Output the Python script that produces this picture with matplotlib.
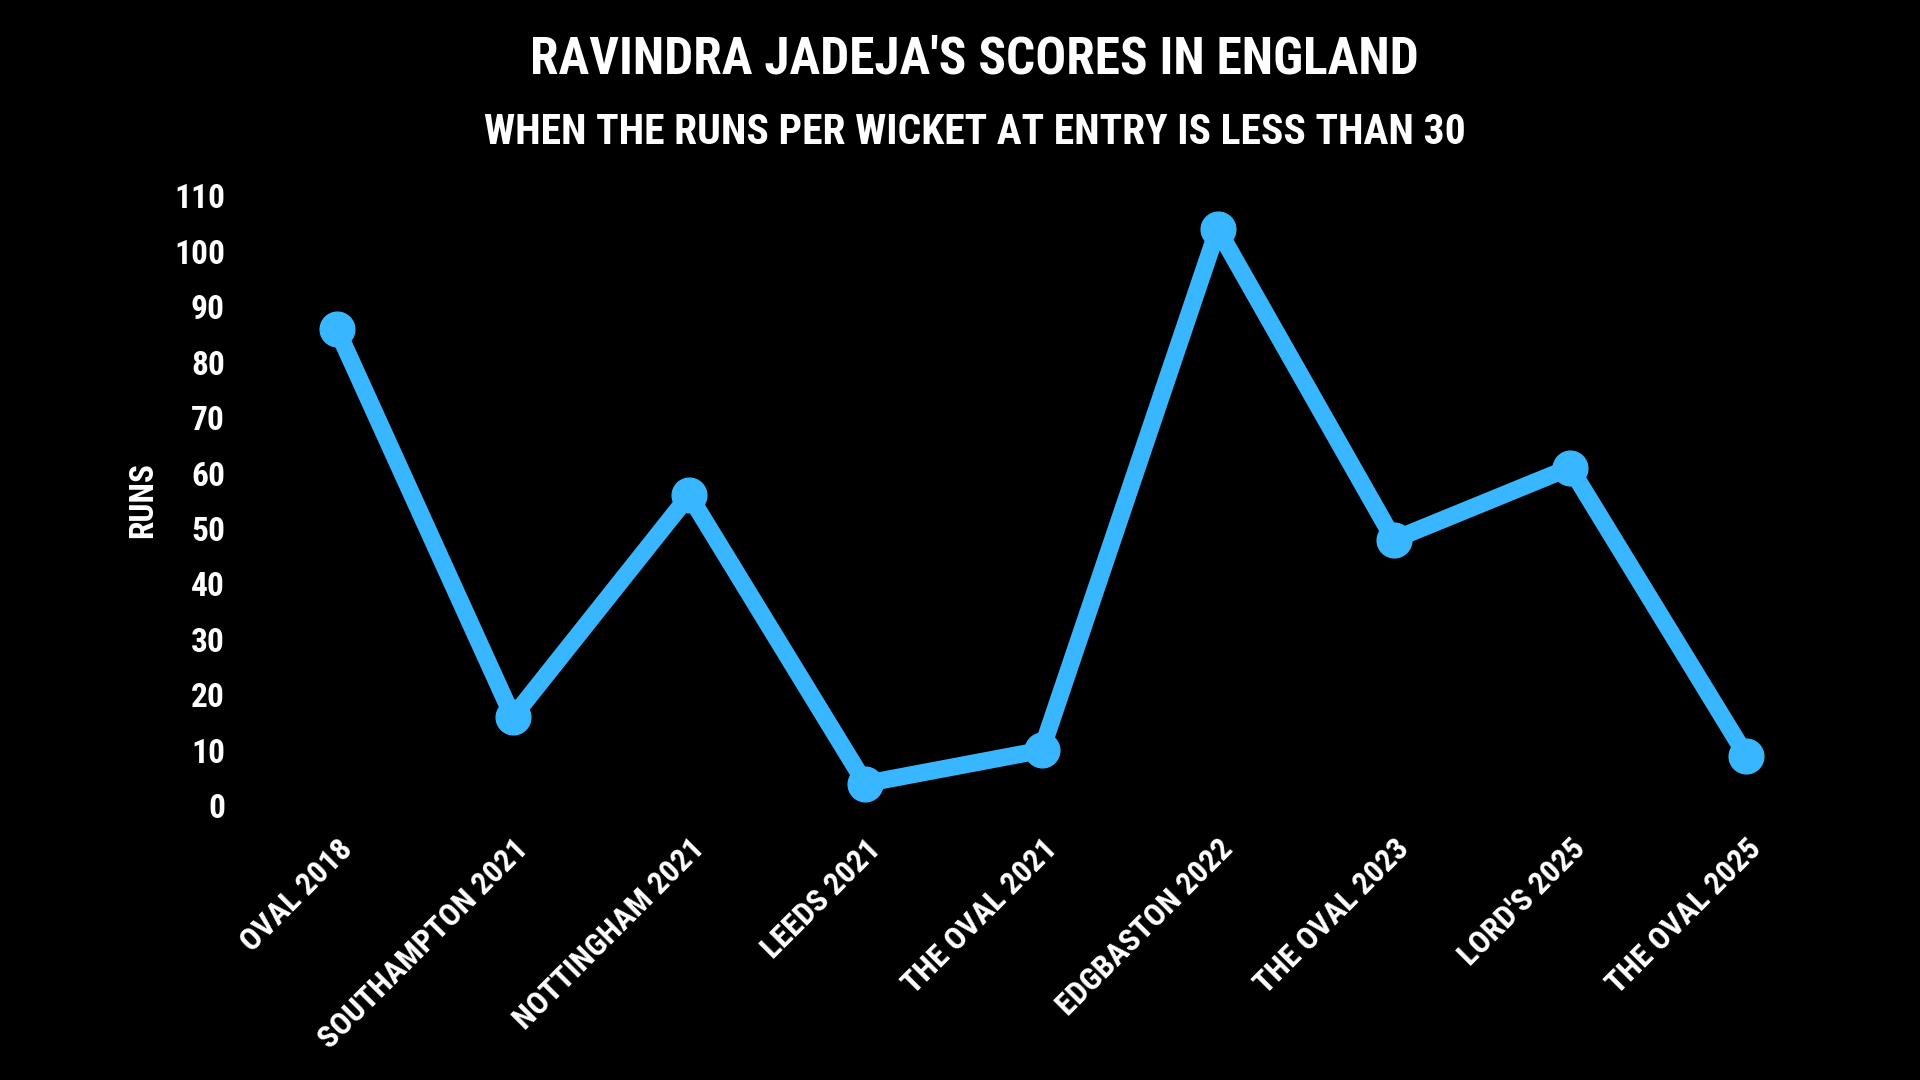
import matplotlib
matplotlib.use("Agg")
import matplotlib.pyplot as plt
from matplotlib import font_manager

venues = ["OVAL 2018", "SOUTHAMPTON 2021", "NOTTINGHAM 2021", "LEEDS 2021",
          "THE OVAL 2021", "EDGBASTON 2022", "THE OVAL 2023", "LORD'S 2025",
          "THE OVAL 2025"]
runs = [86, 16, 56, 4, 10, 104, 48, 61, 9]
y_ticks = list(range(0, 111, 10))

BLUE = "#38b6ff"

# pick a narrow family if one is around
names = {f.name for f in font_manager.fontManager.ttflist}
narrow = [n for n in ["Liberation Sans Narrow", "Roboto Condensed", "Open Sans Condensed"] if n in names]
plt.rcParams["font.family"] = narrow + ["DejaVu Sans"]
plt.rcParams["font.weight"] = "bold"
plt.rcParams["font.stretch"] = "condensed"

fig = plt.figure(figsize=(19.2, 10.8), dpi=100, facecolor="black")
ax = fig.add_axes([248.6 / 1920, 274.3 / 1080, (1834.4 - 248.6) / 1920, 609.7 / 1080])
ax.set_facecolor("black")

x = list(range(len(venues)))
ax.plot(x, runs, color=BLUE, linewidth=12.5, marker="o", markersize=25,
        solid_joinstyle="round", solid_capstyle="round", clip_on=False)

ax.set_xlim(-0.5, 8.5)
ax.set_ylim(0, 110)
ax.set_yticks(y_ticks)
ax.set_yticklabels([str(v) for v in y_ticks], fontsize=24, color="white", fontweight="bold")
ax.set_xticks(x)
ax.set_xticklabels(venues, fontsize=23, color="white", fontweight="bold",
                   rotation=45, ha="right", va="top", rotation_mode="anchor")
ax.tick_params(axis="both", length=0)
ax.tick_params(axis="y", pad=17)
ax.tick_params(axis="x", pad=20)
for s in ax.spines.values():
    s.set_visible(False)

fig.text(143 / 1920, 1 - 500 / 1080, "RUNS", rotation=90, color="white",
         fontsize=24, fontweight="bold", ha="center", va="center")

fig.text(0.5075, 1 - 60 / 1080, "RAVINDRA JADEJA'S SCORES IN ENGLAND",
         color="white", fontsize=37, fontweight="bold", ha="center", va="center")
fig.text(0.5075, 1 - 133 / 1080, "WHEN THE RUNS PER WICKET AT ENTRY IS LESS THAN 30",
         color="white", fontsize=30, fontweight="bold", ha="center", va="center")

fig.savefig("out.png", dpi=100, facecolor="black")
